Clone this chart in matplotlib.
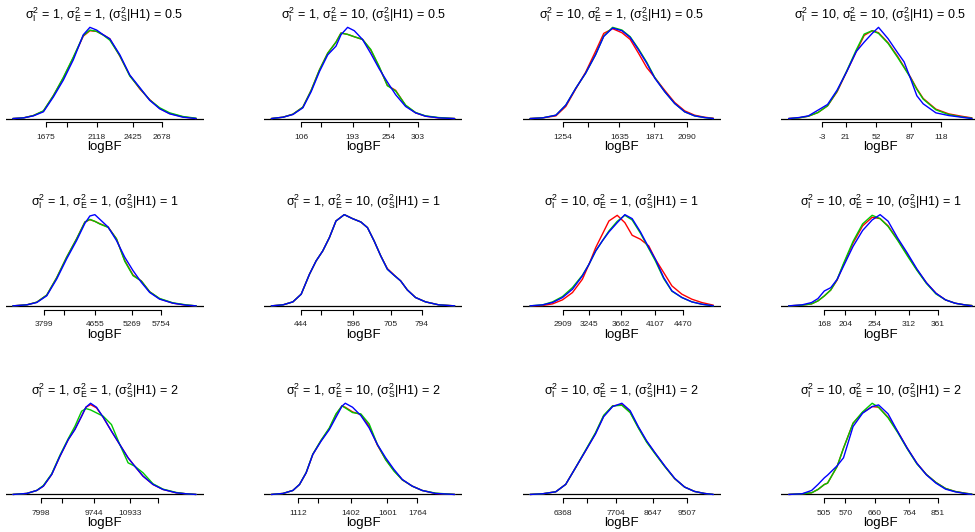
import matplotlib
matplotlib.use('Agg')
import matplotlib.pyplot as plt

plt.rcParams['font.family'] = ['Liberation Sans', 'DejaVu Sans']
plt.rcParams['mathtext.fontset'] = 'custom'
plt.rcParams['mathtext.rm'] = 'Liberation Sans'
plt.rcParams['mathtext.it'] = 'Liberation Sans:italic'
plt.rcParams['mathtext.bf'] = 'Liberation Sans:bold'

# simulation settings per panel (row-major, 3 rows x 4 cols)
sigma_i = [1, 1, 10, 10] * 3
sigma_e = [1, 10, 1, 10] * 3
sigma_s = [0.5] * 4 + [1] * 4 + [2] * 4

# logBF grid for the density curves of each panel
grid_x = [
    [1391, 1483, 1569, 1655, 1741, 1827, 1913, 1999, 2056, 2114, 2171, 2228, 2314, 2400, 2486, 2572, 2658, 2744, 2859, 2973],
    [55.6, 75.2, 92.0, 108.8, 122.8, 136.8, 150.8, 164.8, 173.2, 184.4, 195.6, 209.5, 223.5, 237.5, 251.5, 265.5, 282.3, 299.1, 315.9, 338.3, 365.1],
    [1030, 1115, 1205, 1272, 1339, 1406, 1473, 1529, 1589, 1652, 1708, 1764, 1820, 1875, 1942, 2009, 2077, 2144, 2211, 2271],
    [-36.6, -26.2, -16.6, -6.9, 2.8, 12.5, 22.2, 31.9, 39.9, 48.0, 54.4, 64.1, 73.8, 80.3, 86.7, 93.2, 99.6, 112.5, 125.4, 138.3, 149.0],
    [3268, 3503, 3671, 3838, 4006, 4173, 4341, 4480, 4564, 4648, 4732, 4871, 5011, 5151, 5290, 5430, 5570, 5737, 5961, 6184, 6352],
    [357.2, 391.0, 419.9, 444.0, 468.1, 487.4, 506.7, 526.0, 545.2, 569.3, 593.4, 617.5, 636.8, 656.1, 675.4, 694.6, 713.9, 733.2, 752.5, 776.6, 805.5, 844.1, 890.3],
    [2478, 2642, 2771, 2900, 3030, 3159, 3245, 3332, 3418, 3504, 3612, 3711, 3806, 3914, 4022, 4108, 4216, 4323, 4453, 4582, 4711, 4862],
    [108.0, 130.7, 146.9, 157.7, 168.5, 179.4, 190.2, 201.0, 217.2, 233.4, 249.6, 263.1, 276.7, 292.9, 309.1, 325.3, 341.5, 357.8, 374.0, 390.2, 406.4, 418.8],
    [7085, 7541, 7868, 8085, 8357, 8628, 8900, 9118, 9335, 9476, 9629, 9824, 10042, 10313, 10585, 10857, 11074, 11346, 11672, 11998, 12433, 12759, 13085],
    [967.1, 1030.5, 1084.8, 1121.1, 1157.3, 1193.5, 1238.8, 1284.0, 1320.3, 1352.9, 1371.0, 1410.8, 1456.1, 1501.4, 1546.6, 1591.9, 1637.2, 1682.5, 1736.8, 1791.1, 1863.6, 1968.6],
    [5529, 5848, 6183, 6435, 6687, 6939, 7191, 7400, 7627, 7862, 8072, 8282, 8491, 8701, 8953, 9205, 9457, 9708, 9960, 10187],
    [397.4, 438.1, 467.2, 486.6, 506.0, 515.7, 544.7, 564.1, 593.2, 622.2, 651.3, 670.7, 699.8, 728.8, 757.9, 787.0, 816.0, 845.1, 874.2, 903.3, 932.3, 954.6],
]

# relative density heights, one list per panel
dens_red = [
    [0, 2, 9, 22, 68, 120, 180, 244, 260, 258, 248, 236, 185, 128, 88, 56, 30, 15, 5, 0],
    [0, 4, 13, 34, 84, 145, 195, 228, 255, 251, 244, 236, 204, 154, 99, 84, 39, 17, 7, 2, 0],
    [0, 2, 8, 36, 88, 138, 200, 254, 268, 256, 236, 195, 152, 122, 84, 48, 23, 10, 4, 1],
    [0, 2, 7, 18, 38, 80, 140, 200, 248, 262, 256, 226, 185, 154, 124, 89, 60, 28, 14, 7, 2],
    [0, 3, 11, 32, 84, 145, 200, 250, 257, 252, 245, 235, 200, 135, 92, 74, 42, 21, 8, 2, 0],
    [0, 3, 12, 35, 95, 135, 165, 205, 255, 274, 262, 252, 235, 195, 150, 112, 93, 75, 48, 25, 12, 3, 0],
    [0, 1, 6, 18, 40, 80, 125, 175, 215, 255, 272, 250, 212, 200, 180, 140, 100, 60, 35, 20, 10, 2],
    [0, 2, 6, 15, 30, 48, 78, 125, 190, 242, 268, 264, 242, 200, 155, 110, 70, 38, 18, 8, 3, 1],
    [0, 3, 12, 25, 60, 115, 165, 197, 235, 262, 270, 260, 232, 190, 150, 110, 85, 55, 30, 15, 5, 2, 0],
    [0, 3, 12, 30, 65, 120, 162, 198, 240, 266, 262, 248, 240, 205, 148, 105, 72, 44, 25, 12, 3, 0],
    [0, 2, 8, 30, 80, 130, 182, 234, 264, 268, 246, 200, 158, 124, 84, 47, 22, 9, 3, 0],
    [0, 2, 5, 15, 30, 34, 84, 139, 214, 246, 264, 262, 232, 189, 139, 94, 60, 36, 18, 9, 4, 1],
]
dens_green = [
    [0, 2, 9, 23, 68, 122, 182, 246, 262, 258, 247, 232, 186, 126, 90, 55, 32, 17, 6, 1],
    [0, 4, 13, 34, 84, 145, 195, 228, 255, 251, 244, 236, 206, 156, 98, 82, 40, 18, 8, 3, 0],
    [0, 2, 10, 40, 90, 135, 190, 246, 272, 264, 244, 208, 168, 122, 80, 45, 20, 8, 3, 0],
    [0, 2, 7, 18, 38, 82, 142, 205, 252, 262, 254, 224, 182, 152, 122, 87, 58, 26, 12, 5, 1],
    [0, 3, 11, 32, 84, 145, 200, 250, 258, 252, 244, 234, 200, 133, 90, 74, 42, 22, 9, 3, 0],
    [0, 3, 12, 35, 95, 135, 165, 205, 255, 274, 262, 252, 235, 195, 150, 110, 92, 75, 48, 25, 12, 3, 0],
    [0, 3, 12, 28, 55, 92, 125, 165, 195, 225, 254, 272, 258, 218, 172, 135, 82, 44, 25, 12, 5, 0],
    [0, 2, 6, 15, 30, 48, 80, 128, 195, 248, 274, 264, 240, 198, 152, 108, 68, 36, 18, 8, 3, 1],
    [0, 3, 12, 27, 62, 118, 168, 205, 250, 258, 254, 245, 235, 210, 150, 95, 85, 65, 32, 16, 6, 2, 0],
    [0, 3, 12, 30, 66, 121, 163, 200, 242, 266, 260, 246, 242, 212, 150, 104, 70, 44, 25, 12, 4, 0],
    [0, 2, 8, 30, 80, 132, 184, 236, 264, 266, 244, 198, 156, 122, 83, 47, 22, 9, 3, 0],
    [0, 2, 5, 15, 30, 34, 84, 139, 214, 248, 274, 262, 230, 186, 137, 92, 60, 36, 18, 9, 4, 1],
]
dens_blue = [
    [0, 2, 8, 20, 64, 114, 174, 248, 270, 262, 248, 236, 189, 129, 92, 54, 29, 14, 4, 0],
    [0, 4, 12, 32, 80, 140, 190, 216, 250, 272, 262, 236, 194, 149, 109, 71, 36, 17, 7, 2, 0],
    [0, 2, 10, 40, 90, 135, 190, 245, 270, 262, 242, 205, 165, 120, 80, 45, 20, 8, 3, 0],
    [0, 3, 8, 25, 42, 85, 140, 200, 228, 254, 272, 238, 196, 169, 120, 68, 44, 17, 9, 4, 0],
    [0, 3, 10, 30, 80, 140, 195, 246, 268, 272, 258, 235, 195, 145, 105, 70, 40, 20, 8, 2, 0],
    [0, 3, 12, 35, 95, 135, 165, 205, 255, 274, 262, 252, 235, 195, 150, 110, 92, 75, 48, 25, 12, 3, 0],
    [0, 3, 10, 25, 50, 90, 125, 165, 195, 222, 250, 274, 262, 222, 175, 140, 85, 45, 25, 12, 5, 0],
    [0, 3, 10, 22, 45, 55, 80, 120, 180, 228, 260, 276, 256, 205, 160, 112, 70, 38, 18, 8, 3, 0],
    [0, 3, 12, 25, 60, 115, 165, 195, 235, 262, 274, 262, 232, 190, 150, 110, 85, 55, 30, 15, 5, 2, 0],
    [0, 3, 12, 30, 65, 120, 160, 195, 232, 265, 274, 262, 237, 200, 150, 110, 75, 45, 25, 12, 3, 0],
    [0, 2, 8, 30, 80, 130, 180, 232, 262, 272, 250, 202, 160, 125, 85, 48, 22, 9, 3, 0],
    [0, 2, 12, 30, 50, 58, 86, 110, 204, 244, 264, 269, 242, 189, 139, 94, 59, 34, 16, 8, 3, 0],
]

# axis ticks (quantiles of logBF); empty label = label dropped for overlap
tick_vals = [
    [1675, 1861, 2118, 2425, 2678],
    [106, 140, 193, 254, 303],
    [1254, 1419, 1635, 1871, 2090],
    [-3, 21, 52, 87, 118],
    [3799, 4129, 4655, 5269, 5754],
    [444, 503, 596, 705, 794],
    [2909, 3245, 3662, 4107, 4470],
    [168, 204, 254, 312, 361],
    [7998, 8705, 9744, 10933, 11846],
    [1112, 1224, 1402, 1601, 1764],
    [6368, 6989, 7704, 8647, 9507],
    [505, 570, 660, 764, 851],
]
tick_labels = [
    ['1675', '', '2118', '2425', '2678'],
    ['106', '', '193', '254', '303'],
    ['1254', '', '1635', '1871', '2090'],
    ['-3', '21', '52', '87', '118'],
    ['3799', '', '4655', '5269', '5754'],
    ['444', '', '596', '705', '794'],
    ['2909', '3245', '3662', '4107', '4470'],
    ['168', '204', '254', '312', '361'],
    ['7998', '', '9744', '10933', ''],
    ['1112', '', '1402', '1601', '1764'],
    ['6368', '', '7704', '8647', '9507'],
    ['505', '570', '660', '764', '851'],
]

W, H = 975, 532
fig = plt.figure(figsize=(W / 100, H / 100), dpi=100)

col_left = [5.5, 264, 522.7, 781.3]
row_top = [23.7, 211.0, 399.6]
pw, ph = 198, 98.5

for k in range(12):
    r, c = divmod(k, 4)
    ax = fig.add_axes([col_left[c] / W, 1 - (row_top[r] + ph) / H, pw / W, ph / H])
    ax.patch.set_alpha(0)
    x = grid_x[k]
    ax.axhline(0, color='black', lw=0.9, zorder=1)
    for dens, col, z in ((dens_red[k], '#ff0000', 2), (dens_green[k], '#00c800', 3),
                         (dens_blue[k], '#0000ff', 4)):
        ax.plot(x, dens, color=col, lw=1.0, zorder=z,
                solid_joinstyle='round', solid_capstyle='round')

    span = x[-1] - x[0]
    ax.set_xlim(x[0] - 0.04 * span, x[-1] + 0.04 * span)
    top = max(max(dens_red[k]), max(dens_green[k]), max(dens_blue[k]))
    ax.set_ylim(-0.04 * top, 1.04 * top)

    for s in ('top', 'left', 'right'):
        ax.spines[s].set_visible(False)
    ax.spines['bottom'].set_bounds(tick_vals[k][0], tick_vals[k][-1])
    ax.spines['bottom'].set_linewidth(0.8)
    ax.set_yticks([])
    ax.set_xticks(tick_vals[k], tick_labels[k])
    ax.tick_params(axis='x', direction='out', length=3.3, width=0.8,
                   labelsize=6, pad=5, colors='black')
    for lab in ax.get_xticklabels():
        lab.set_color('#222222')
    ax.set_xlabel('logBF', fontsize=9.5, labelpad=0.5)

    title = (r'$\mathrm{\sigma}_\mathrm{I}^2$ = %g, $\mathrm{\sigma}_\mathrm{E}^2$ = %g, '
             r'($\mathrm{\sigma}_\mathrm{S}^2$|H1) = %g' % (sigma_i[k], sigma_e[k], sigma_s[k]))
    ax.set_title(title, fontsize=9, pad=1.5)

fig.savefig('out.png', dpi=100)
